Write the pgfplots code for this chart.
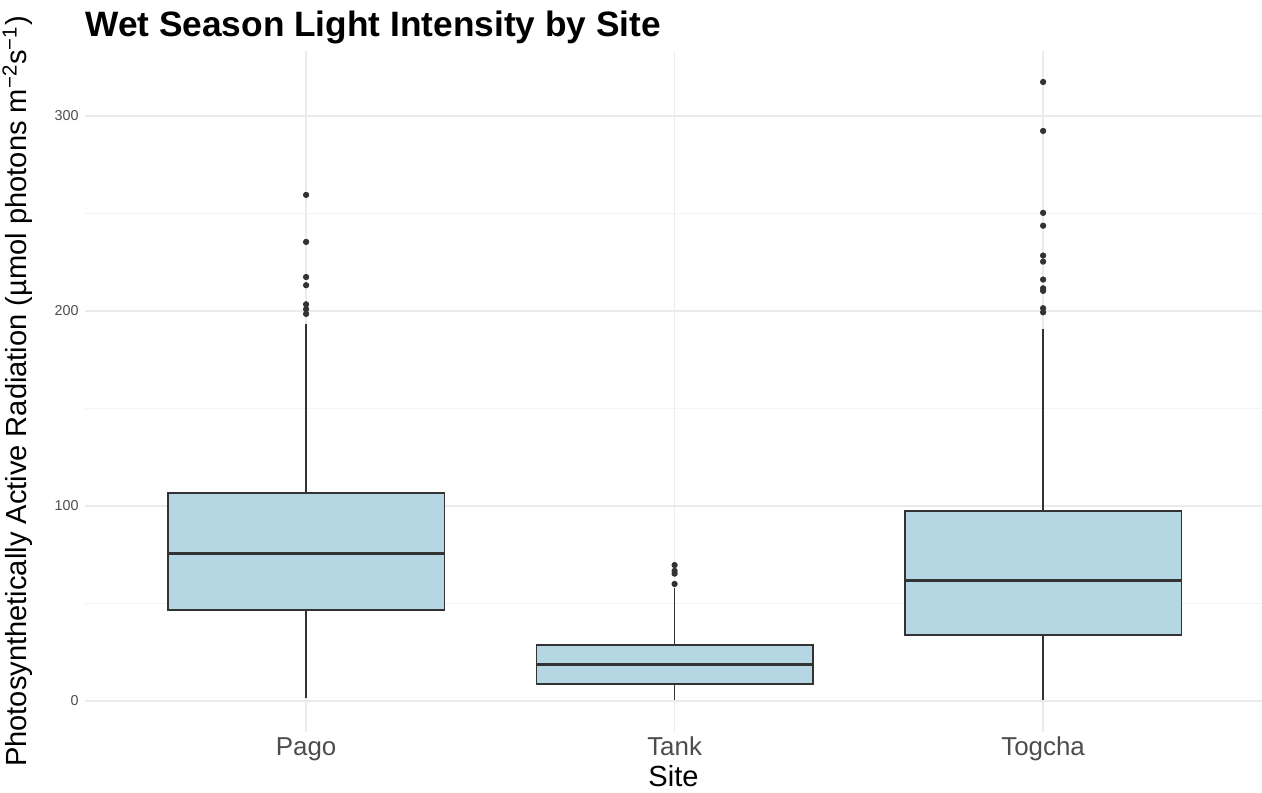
\documentclass[border=0pt]{standalone}
\usepackage{pgfplots}
\pgfplotsset{compat=1.18}
\usepackage{fontspec}
\setmainfont{Liberation Sans}
\definecolor{boxfill}{HTML}{B5D7E3}
\definecolor{c20}{HTML}{333333}
\definecolor{c30}{HTML}{4D4D4D}
\definecolor{gridc}{HTML}{EBEBEB}
\begin{document}
\begin{tikzpicture}
\path[use as bounding box] (-42.5bp,-30.5bp) rectangle (588.5bp,366bp);
\begin{axis}[
  scale only axis,
  width=588.5bp, height=340.5bp,
  xmin=0.4, xmax=3.594,
  ymin=-15.9, ymax=333.3,
  xtick={1,2,3},
  xticklabels={Pago,Tank,Togcha},
  ytick={0,100,200,300},
  minor ytick={50,150,250},
  xmajorgrids, ymajorgrids, yminorgrids,
  major grid style={draw=gridc, line width=0.7bp},
  minor grid style={draw=gridc!60, line width=0.4bp},
  axis line style={draw=none},
  tick style={draw=none},
  /pgf/number format/assume math mode=true,
  yticklabel style={font=\fontsize{7.2}{8}\selectfont, text=c30, anchor=east, inner sep=0pt, xshift=-3bp},
  xticklabel style={font=\fontsize{13}{15}\selectfont, text=c30, anchor=base, inner sep=0pt, yshift=-11.5bp},
  xlabel={Site},
  xlabel style={font=\fontsize{14.6}{17}\selectfont, at={(axis description cs:0.5,0)}, anchor=base, inner sep=0pt, yshift=-27bp},
  ylabel={Photosynthetically Active Radiation (µmol photons m\textsuperscript{−2}s\textsuperscript{−1})},
  ylabel style={font=\fontsize{14.6}{17}\selectfont, at={(axis description cs:-0.0493,0.5)}, anchor=base, inner sep=0pt},
  title={Wet Season Light Intensity by Site},
  title style={font=\fontsize{17.7}{21}\selectfont\bfseries, at={(axis description cs:0,1)}, anchor=base west, inner sep=0pt, yshift=1.5bp},
]
% whiskers
\addplot[draw=c20, line width=0.85bp] coordinates {(1,106.7) (1,193.3)};
\addplot[draw=c20, line width=0.85bp] coordinates {(1,46.7) (1,1.5)};
\addplot[draw=c20, line width=0.85bp] coordinates {(2,28.7) (2,58)};
\addplot[draw=c20, line width=0.85bp] coordinates {(2,8.7) (2,0.5)};
\addplot[draw=c20, line width=0.85bp] coordinates {(3,97.4) (3,191)};
\addplot[draw=c20, line width=0.85bp] coordinates {(3,33.8) (3,0.5)};
% boxes (quartiles)
\addplot[draw=c20, fill=boxfill, line width=0.7bp] coordinates {(0.625,46.7) (1.375,46.7) (1.375,106.7) (0.625,106.7)} -- cycle;
\addplot[draw=c20, fill=boxfill, line width=0.7bp] coordinates {(1.625,8.7) (2.375,8.7) (2.375,28.7) (1.625,28.7)} -- cycle;
\addplot[draw=c20, fill=boxfill, line width=0.7bp] coordinates {(2.625,33.8) (3.375,33.8) (3.375,97.4) (2.625,97.4)} -- cycle;
% medians
\addplot[draw=c20, line width=1.5bp] coordinates {(0.625,75.4) (1.375,75.4)};
\addplot[draw=c20, line width=1.5bp] coordinates {(1.625,18.5) (2.375,18.5)};
\addplot[draw=c20, line width=1.5bp] coordinates {(2.625,62) (3.375,62)};
% outliers
\addplot[only marks, mark=*, mark size=1.35bp, color=c20] coordinates {
  (1,259.5) (1,235.4) (1,217.4) (1,213.2) (1,203.4) (1,200.9) (1,198.5)
  (2,69.7) (2,66.7) (2,65.3) (2,60.0)
  (3,317.4) (3,292.3) (3,250.3) (3,243.7) (3,228.4) (3,225.3) (3,216.1) (3,211.6) (3,210.3) (3,201.4) (3,199.3)
};
\end{axis}
\end{tikzpicture}
\end{document}
